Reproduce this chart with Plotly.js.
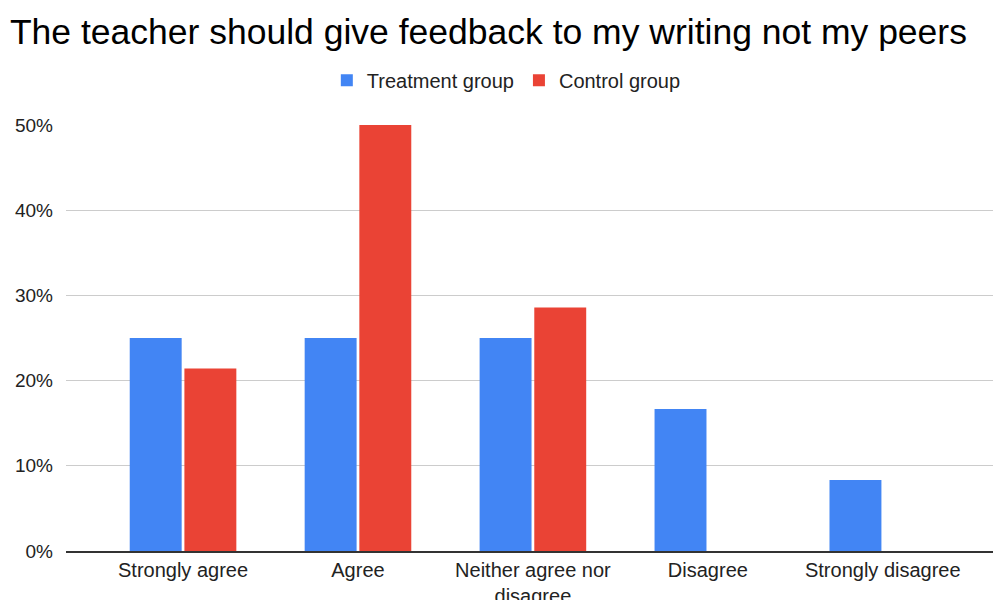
<!DOCTYPE html>
<html>
<head>
<meta charset="utf-8">
<script src="https://cdn.plot.ly/plotly-3.0.1.min.js"></script>
<style>html,body{margin:0;padding:0;background:#fff;}#chart{width:993px;height:600px;}</style>
</head>
<body>
<div id="chart"></div>
<script>
const categories = ["Strongly agree", "Agree", "Neither agree nor<br>disagree", "Disagree", "Strongly disagree"];
const treatment = [0.25, 0.25, 0.25, 0.1667, 0.0833];
const control = [0.2143, 0.50, 0.2857, 0, 0];
const seriesNames = ["Treatment group", "Control group"];
const tickVals = [0, 0.1, 0.2, 0.3, 0.4, 0.5];
const tickText = ["0%", "10%", "20%", "30%", "40%", "50%"];

const traces = [
  {type: "bar", x: categories, y: treatment, name: seriesNames[0], marker: {color: "#4285F4"}, hoverinfo: "skip"},
  {type: "bar", x: categories, y: control, name: seriesNames[1], marker: {color: "#EA4335"}, hoverinfo: "skip"}
];

const font = "Liberation Sans, Arial, sans-serif";
const layout = {
  width: 993, height: 600,
  margin: {l: 66, r: 0, t: 125, b: 49},
  paper_bgcolor: "#fff", plot_bgcolor: "#fff",
  font: {family: font, color: "#222", size: 19},
  title: {text: "The teacher should give feedback to my writing not my peers", x: 0.01, xanchor: "left", y: 0.968, yanchor: "top", font: {family: font, size: 35.5, color: "#000"}},
  barmode: "group", bargap: 0.375, bargroupgap: 0.05,
  showlegend: true,
  legend: {orientation: "h", x: 0.475, xanchor: "center", y: 1.105, yanchor: "middle", font: {family: font, size: 20, color: "#222"}, itemwidth: 30, traceorder: "normal"},
  xaxis: {type: "category", range: [-0.669, 4.63], showgrid: false, showline: true, linecolor: "#333", linewidth: 1.5, ticks: "", tickfont: {family: font, size: 20, color: "#222"}, fixedrange: true},
  yaxis: {range: [0, 0.5], tickvals: tickVals, ticktext: tickText, showgrid: true, gridcolor: "#cccccc", gridwidth: 1, zeroline: false, showline: false, ticks: "", ticklabelstandoff: 12, tickfont: {family: font, size: 19, color: "#222"}, fixedrange: true}
};
Plotly.newPlot("chart", traces, layout, {displayModeBar: false, staticPlot: true});
</script>
</body>
</html>
